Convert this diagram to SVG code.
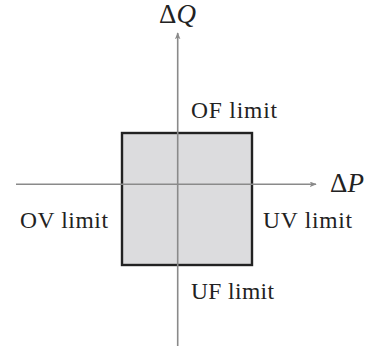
<svg xmlns="http://www.w3.org/2000/svg" width="369" height="352" viewBox="0 0 369 352">
<defs>
<style>
.axis{stroke:#8a8a8a;stroke-width:1.6;fill:none}
.box{fill:#dcdcde;stroke:#222;stroke-width:2.4}
.lbl{font-family:"Liberation Serif","Times New Roman",serif;font-size:23.5px;fill:#222}
.sym{font-family:"Liberation Serif","Times New Roman",serif;font-size:27px;fill:#222}
</style>
<marker id="ah" viewBox="0 0 10 8" refX="9" refY="4" markerWidth="7" markerHeight="5.6" markerUnits="userSpaceOnUse" orient="auto">
<path d="M0,0 L10,4 L0,8 L2.5,4 Z" fill="#8a8a8a"/>
</marker>
</defs>
<rect width="369" height="352" fill="#fff"/>
<g id="region">
<rect class="box" x="122" y="133" width="130" height="132"/>
</g>
<g id="axes">
<line class="axis" x1="16" y1="184.3" x2="316" y2="184.3" marker-end="url(#ah)"/>
<line class="axis" x1="177.7" y1="346" x2="177.7" y2="33" marker-end="url(#ah)"/>
</g>
<g id="labels">
<text class="sym" x="159" y="23">Δ<tspan font-style="italic">Q</tspan></text>
<text class="sym" x="330" y="192">Δ<tspan font-style="italic">P</tspan></text>
<text class="lbl" x="191" y="118" textLength="86" lengthAdjust="spacing">OF limit</text>
<text class="lbl" x="20" y="228" textLength="88" lengthAdjust="spacing">OV limit</text>
<text class="lbl" x="263" y="228" textLength="89" lengthAdjust="spacing">UV limit</text>
<text class="lbl" x="191" y="299" textLength="83" lengthAdjust="spacing">UF limit</text>
</g>
</svg>
